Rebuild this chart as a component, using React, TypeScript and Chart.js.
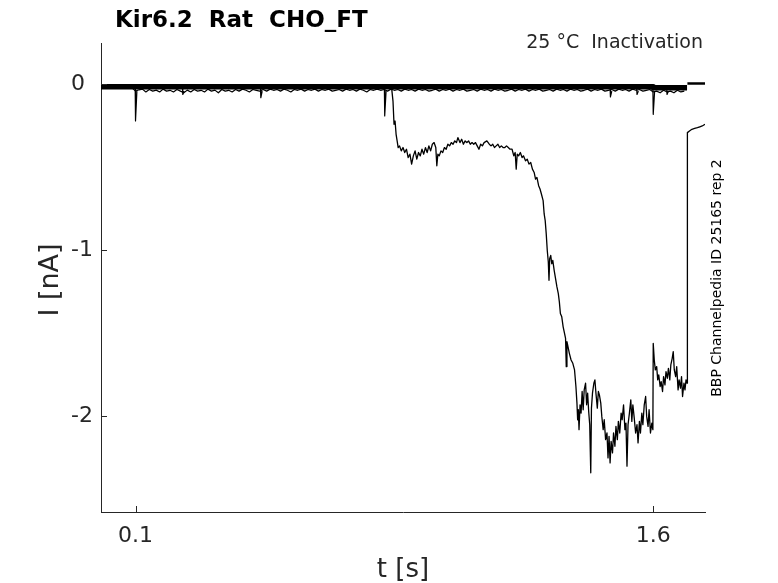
import React, { useEffect, useRef } from "react";
import { Chart, registerables } from "chart.js";

Chart.register(...registerables);

const FONT = "'DejaVu Sans', 'Liberation Sans', sans-serif";
const INK = "#262626";

const TITLE = "Kir6.2  Rat  CHO_FT";
const SUBTITLE = "25 °C  Inactivation";
const SIDE_NOTE = "BBP Channelpedia ID 25165 rep 2";
const X_LABEL = "t [s]";
const Y_LABEL = "I [nA]";

const X_TICKS = [0.1, 1.6];
const Y_TICKS = [-2, -1, 0];
const X_MIN = 0;
const X_MAX = 1.75;
const Y_MIN = -2.576;
const Y_MAX = 0.25;

// main (inactivating) sweep
const MAIN_T = [
  0.0, 0.2, 0.4, 0.6, 0.8, 0.842, 0.846, 0.849, 0.852, 0.855, 0.858, 0.861,
  0.865, 0.87, 0.875, 0.88, 0.885, 0.89, 0.895, 0.9, 0.905, 0.91, 0.915, 0.92,
  0.925, 0.93, 0.935, 0.94, 0.945, 0.95, 0.955, 0.96, 0.965, 0.97, 0.973, 0.976,
  0.98, 0.985, 0.99, 0.995, 1.0, 1.005, 1.01, 1.015, 1.02, 1.025, 1.03, 1.034,
  1.04, 1.045, 1.05, 1.055, 1.06, 1.065, 1.07, 1.075, 1.08, 1.085, 1.09, 1.095,
  1.1, 1.105, 1.11, 1.118, 1.125, 1.13, 1.135, 1.14, 1.145, 1.15, 1.155, 1.16,
  1.165, 1.17, 1.175, 1.18, 1.185, 1.191, 1.196, 1.2, 1.203, 1.206, 1.21, 1.215,
  1.22, 1.224, 1.23, 1.235, 1.24, 1.245, 1.25, 1.255, 1.259, 1.263, 1.268, 1.272,
  1.276, 1.281, 1.284, 1.287, 1.29, 1.293, 1.296, 1.298, 1.3, 1.303, 1.306, 1.309,
  1.313, 1.317, 1.321, 1.325, 1.328, 1.331, 1.335, 1.339, 1.343, 1.346, 1.348, 1.35,
  1.353, 1.357, 1.362, 1.367, 1.372, 1.376, 1.379, 1.381, 1.383, 1.385, 1.388, 1.391,
  1.394, 1.397, 1.4, 1.404, 1.407, 1.41, 1.413, 1.416, 1.419, 1.421, 1.424, 1.428,
  1.431, 1.434, 1.438, 1.441, 1.444, 1.448, 1.451, 1.455, 1.458, 1.462, 1.466, 1.469,
  1.472, 1.475, 1.478, 1.482, 1.485, 1.489, 1.492, 1.496, 1.499, 1.503, 1.507, 1.51,
  1.514, 1.518, 1.521, 1.524, 1.527, 1.531, 1.535, 1.538, 1.541, 1.545, 1.549, 1.553,
  1.556, 1.56, 1.563, 1.567, 1.57, 1.574, 1.578, 1.581, 1.585, 1.588, 1.592, 1.596,
  1.599, 1.6, 1.603, 1.606, 1.61, 1.613, 1.616, 1.62, 1.623, 1.627, 1.63, 1.634,
  1.637, 1.641, 1.644, 1.648, 1.651, 1.655, 1.658, 1.661, 1.665, 1.668, 1.672, 1.675,
  1.679, 1.682, 1.685, 1.689, 1.692, 1.695, 1.698, 1.699, 1.705, 1.712, 1.72, 1.728,
  1.735, 1.742, 1.75,
];
const MAIN_I = [
  -0.01, -0.015, -0.015, -0.015, -0.015, -0.02, -0.1, -0.24, -0.22, -0.3, -0.34, -0.38,
  -0.37, -0.4, -0.38, -0.41, -0.39, -0.44, -0.42, -0.48, -0.43, -0.4, -0.45, -0.41,
  -0.43, -0.39, -0.42, -0.38, -0.41, -0.37, -0.4, -0.36, -0.35, -0.38, -0.49, -0.42,
  -0.43, -0.4, -0.41, -0.38, -0.39, -0.36, -0.37, -0.35, -0.36, -0.34, -0.35, -0.32,
  -0.35, -0.33, -0.36, -0.34, -0.35, -0.34, -0.36, -0.35, -0.36, -0.35, -0.37, -0.39,
  -0.36, -0.37, -0.35, -0.34, -0.36, -0.37, -0.36, -0.38, -0.37, -0.36, -0.38, -0.37,
  -0.38, -0.38, -0.37, -0.38, -0.39, -0.39, -0.43, -0.41, -0.51, -0.42, -0.43, -0.41,
  -0.44, -0.43, -0.46, -0.45, -0.48, -0.47, -0.51, -0.53, -0.57, -0.56, -0.61, -0.63,
  -0.66, -0.7, -0.78, -0.82, -0.9, -1.0, -1.07, -1.18, -1.05, -1.03, -1.08, -1.06,
  -1.12, -1.17, -1.22, -1.26, -1.31, -1.38, -1.4, -1.46, -1.5, -1.53, -1.7, -1.55,
  -1.58, -1.62, -1.66, -1.68, -1.72, -1.82, -1.92, -2.02, -1.96, -2.08, -1.93, -1.98,
  -1.85, -1.96, -1.84, -1.8, -1.93, -1.86, -1.97, -2.05, -2.34, -1.95, -1.86, -1.8,
  -1.78, -1.86, -1.95, -1.85, -1.87, -1.92, -2.0, -2.08, -2.02, -2.14, -2.1, -2.25,
  -2.12, -2.28, -2.15, -2.22, -2.1, -2.18, -2.06, -2.14, -2.03, -2.1, -1.98, -2.02,
  -1.93, -2.08, -2.04, -2.3, -2.05, -1.98, -1.9, -2.03, -1.93, -2.01, -2.1, -2.05,
  -2.16, -2.03, -2.1, -1.98, -2.05, -1.93, -1.88, -2.0, -2.06, -1.96, -2.1, -2.04,
  -2.08, -1.56, -1.66, -1.72, -1.7, -1.78, -1.75, -1.82, -1.79, -1.85, -1.76, -1.81,
  -1.73, -1.77, -1.71, -1.78, -1.69, -1.65, -1.61, -1.72, -1.76, -1.7, -1.84, -1.78,
  -1.83, -1.76, -1.88, -1.8, -1.84, -1.78, -1.8, -0.29, -0.28, -0.27, -0.265, -0.26,
  -0.255, -0.25, -0.24,
];

// overlaid baseline sweeps near 0 nA
const BAND_T = [0.0, 1.6, 1.6, 1.698];
const BAND_I = [-0.0135, -0.0135, -0.019, -0.019];
const TAIL_T = [1.699, 1.75];
const TAIL_I = [0.006, 0.006];

const NOISE_T0 = 0.0;
const NOISE_DT = 0.01;
const NOISE_I = [
  -0.012, -0.02, -0.015, -0.018, -0.012, -0.02, -0.016, -0.018, -0.014, -0.02,
  -0.04, -0.032, -0.028, -0.045, -0.03, -0.04, -0.034, -0.045, -0.028, -0.04,
  -0.035, -0.045, -0.03, -0.04, -0.05, -0.034, -0.045, -0.03, -0.04, -0.035,
  -0.045, -0.028, -0.04, -0.034, -0.05, -0.03, -0.04, -0.035, -0.045, -0.03,
  -0.04, -0.028, -0.035, -0.045, -0.03, -0.035, -0.04, -0.03, -0.04, -0.028,
  -0.035, -0.03, -0.04, -0.028, -0.035, -0.045, -0.03, -0.035, -0.028, -0.04,
  -0.03, -0.035, -0.028, -0.04, -0.03, -0.035, -0.028, -0.04, -0.035, -0.03,
  -0.04, -0.028, -0.035, -0.03, -0.04, -0.028, -0.035, -0.045, -0.03, -0.035,
  -0.028, -0.035, -0.03, -0.04, -0.028, -0.035, -0.03, -0.04, -0.028, -0.035,
  -0.03, -0.04, -0.028, -0.035, -0.03, -0.04, -0.035, -0.028, -0.04, -0.03,
  -0.035, -0.028, -0.04, -0.03, -0.035, -0.028, -0.04, -0.035, -0.03, -0.04,
  -0.028, -0.035, -0.03, -0.04, -0.028, -0.035, -0.03, -0.04, -0.035, -0.028,
  -0.04, -0.03, -0.035, -0.028, -0.04, -0.03, -0.035, -0.028, -0.04, -0.035,
  -0.03, -0.04, -0.028, -0.035, -0.03, -0.04, -0.028, -0.035, -0.03, -0.04,
  -0.035, -0.028, -0.04, -0.03, -0.035, -0.028, -0.04, -0.035, -0.03, -0.04,
  -0.028, -0.035, -0.03, -0.04, -0.028, -0.035, -0.03, -0.04, -0.035, -0.03,
  -0.045, -0.04, -0.05, -0.035, -0.045, -0.04, -0.05, -0.035, -0.045, -0.04,
];

// brief transients in the baseline sweeps
const SPIKE_T = [0.1, 0.237, 0.463, 0.822, 1.476, 1.553, 1.6, 1.64];
const SPIKE_I = [-0.22, -0.06, -0.08, -0.19, -0.075, -0.06, -0.18, -0.06];

export default function App() {
  const ref = useRef<HTMLCanvasElement | null>(null);

  useEffect(() => {
    if (!ref.current) return;
    const pts = (ts: number[], vs: number[]) => ts.map((t, i) => ({ x: t, y: vs[i] }));
    const noisePts = NOISE_I.map((v, i) => ({ x: NOISE_T0 + i * NOISE_DT, y: v }));

    const line = (data: any[], width: number) => ({
      data,
      borderColor: "#000000",
      borderWidth: width,
      pointRadius: 0,
      tension: 0,
      fill: false,
      borderJoinStyle: "round" as const,
    });

    const datasets: any[] = [
      line(pts(BAND_T, BAND_I), 5.5),
      line(noisePts, 1.2),
      line(pts(TAIL_T, TAIL_I), 2.5),
    ];
    SPIKE_T.forEach((t, i) => {
      datasets.push(
        line(
          [
            { x: t - 0.001, y: -0.02 },
            { x: t, y: SPIKE_I[i] },
            { x: t + 0.004, y: -0.04 },
          ],
          1.2
        )
      );
    });
    datasets.push(line(pts(MAIN_T, MAIN_I), 1.3));

    const decor = {
      id: "decor",
      afterDraw(chart: any) {
        const ctx = chart.ctx as CanvasRenderingContext2D;
        const { left, bottom } = chart.chartArea;
        const xs = chart.scales.x;
        const ys = chart.scales.y;
        ctx.save();
        ctx.strokeStyle = INK;
        ctx.lineWidth = 1;
        ctx.beginPath();
        X_TICKS.forEach((v) => {
          const px = Math.round(xs.getPixelForValue(v)) + 0.5;
          ctx.moveTo(px, bottom);
          ctx.lineTo(px, bottom - 6);
        });
        Y_TICKS.forEach((v) => {
          const py = Math.round(ys.getPixelForValue(v)) + 0.5;
          ctx.moveTo(left, py);
          ctx.lineTo(left + 6, py);
        });
        ctx.stroke();

        ctx.fillStyle = "#000000";
        ctx.font = `bold 23px ${FONT}`;
        ctx.textAlign = "left";
        ctx.textBaseline = "alphabetic";
        ctx.fillText(TITLE, 115, 27);

        ctx.fillStyle = INK;
        ctx.font = `19px ${FONT}`;
        ctx.textAlign = "right";
        ctx.fillText(SUBTITLE, 703, 48);

        ctx.font = `26px ${FONT}`;
        ctx.textAlign = "center";
        ctx.fillText(X_LABEL, 403, 577);

        ctx.save();
        ctx.translate(51, 280);
        ctx.rotate(-Math.PI / 2);
        ctx.font = `27px ${FONT}`;
        ctx.textBaseline = "middle";
        ctx.fillText(Y_LABEL, 0, 0);
        ctx.restore();

        ctx.save();
        ctx.fillStyle = "#000000";
        ctx.translate(717, 278);
        ctx.rotate(-Math.PI / 2);
        ctx.font = `14px ${FONT}`;
        ctx.textAlign = "center";
        ctx.textBaseline = "middle";
        ctx.fillText(SIDE_NOTE, 0, 0);
        ctx.restore();

        ctx.restore();
      },
    };

    const chart = new Chart(ref.current, {
      type: "line",
      data: { datasets },
      options: {
        animation: false,
        responsive: true,
        maintainAspectRatio: false,
        parsing: false,
        normalized: true,
        layout: { padding: { left: 71, top: 43, right: 73, bottom: 0 } },
        plugins: { legend: { display: false }, tooltip: { enabled: false }, title: { display: false } },
        scales: {
          x: {
            type: "linear",
            min: X_MIN,
            max: X_MAX,
            border: { display: true, color: INK, width: 1 },
            grid: { display: false, drawTicks: false },
            ticks: {
              color: INK,
              font: { family: FONT, size: 22 },
              padding: 11,
              maxRotation: 0,
              autoSkip: false,
              callback: (v: any) => String(v),
            },
            afterBuildTicks: (s: any) => {
              s.ticks = X_TICKS.map((v) => ({ value: v }));
            },
            afterFit: (s: any) => {
              s.height = 71;
            },
          },
          y: {
            type: "linear",
            min: Y_MIN,
            max: Y_MAX,
            border: { display: true, color: INK, width: 1 },
            grid: { display: false, drawTicks: false },
            ticks: {
              color: INK,
              font: { family: FONT, size: 22 },
              crossAlign: "far",
              padding: 8,
              autoSkip: false,
              callback: (v: any) => String(v),
            },
            afterBuildTicks: (s: any) => {
              s.ticks = Y_TICKS.map((v) => ({ value: v }));
            },
            afterFit: (s: any) => {
              s.width = 30;
            },
          },
        },
      } as any,
      plugins: [decor],
    });
    return () => chart.destroy();
  }, []);

  return (
    <div style={{ position: "fixed", left: 0, top: 0, width: 778, height: 583, background: "#ffffff" }}>
      <canvas ref={ref} />
    </div>
  );
}
